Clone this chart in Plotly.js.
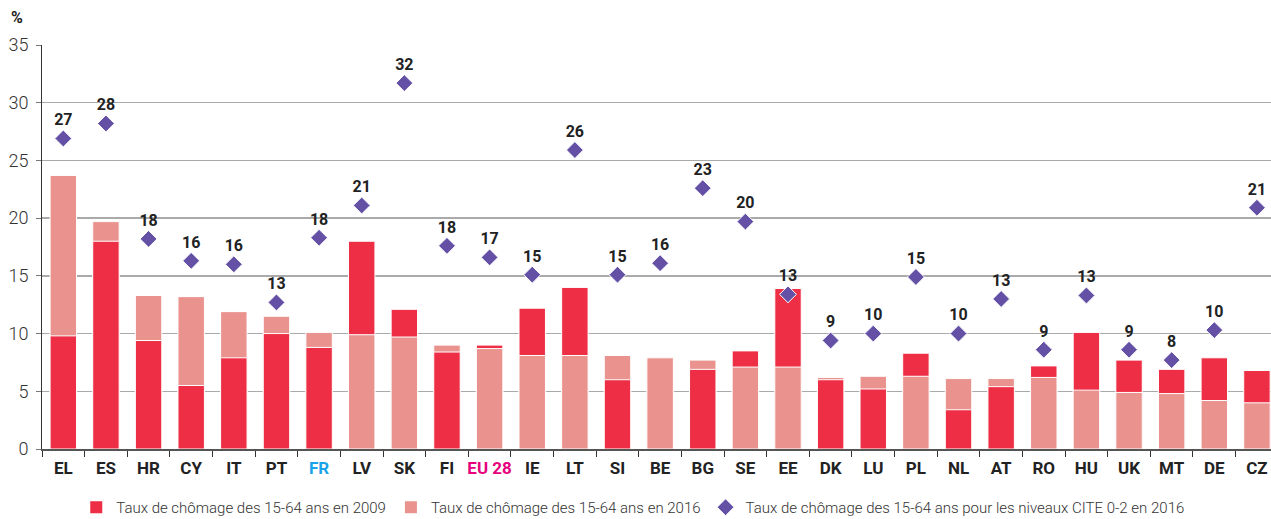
<!DOCTYPE html>
<html>
<head>
<meta charset="utf-8">
<script src="https://cdn.plot.ly/plotly-3.0.1.min.js"></script>
<style>
html,body{margin:0;padding:0;background:#fff;}
#chart{width:1271px;height:519px;}
</style>
</head>
<body>
<div id="chart"></div>
<script>
// Data
const countries = ["EL","ES","HR","CY","IT","PT","FR","LV","SK","FI","EU 28","IE","LT","SI","BE","BG","SE","EE","DK","LU","PL","NL","AT","RO","HU","UK","MT","DE","CZ"];
const rate2009 = [9.8,18.0,9.4,5.5,7.9,10.0,8.8,18.0,12.1,8.4,9.0,12.2,14.0,6.0,7.9,6.9,8.5,13.9,6.0,5.2,8.3,3.4,5.4,7.2,10.1,7.7,6.9,7.9,6.8];
const rate2016 = [23.7,19.7,13.3,13.2,11.9,11.5,10.1,9.9,9.7,9.0,8.7,8.1,8.1,8.1,7.9,7.7,7.1,7.1,6.2,6.3,6.3,6.1,6.1,6.2,5.1,4.9,4.8,4.2,4.0];
const cite2016 = [26.9,28.2,18.2,16.3,16.0,12.7,18.3,21.1,31.7,17.6,16.6,15.1,25.9,15.1,16.1,22.6,19.7,13.4,9.4,10.0,14.9,10.0,13.0,8.6,13.3,8.6,7.7,10.3,20.9];
const labelColors = {"FR":"#1AA3E8","EU 28":"#E6007E"};

const RED = "#EE2E44";
const PINK = "#EA928E";
const PURPLE = "#6450A5";
const FONT = "Roboto, 'Liberation Sans', sans-serif";

// Overlapping bars: the larger value sits behind, the smaller in front
const backY = countries.map((c,i)=>Math.max(rate2009[i],rate2016[i]));
const backC = countries.map((c,i)=>rate2009[i] > rate2016[i] ? RED : PINK);
const frontY = countries.map((c,i)=>Math.min(rate2009[i],rate2016[i]));
const frontC = countries.map((c,i)=>rate2009[i] < rate2016[i] ? RED : PINK);

const ticktext = countries.map(c => labelColors[c] ? `<span style="color:${labelColors[c]}">${c}</span>` : c);

const traces = [
  {type:"bar", x:countries, y:backY, marker:{color:backC, line:{color:"#ffffff", width:1}}, width:0.62, showlegend:false, hoverinfo:"x+y"},
  {type:"bar", x:countries, y:frontY, marker:{color:frontC, line:{color:"#ffffff", width:1}}, width:0.62, showlegend:false, hoverinfo:"x+y"},
  {type:"bar", x:[null], y:[null], name:"Taux de chômage des 15-64 ans en 2009", marker:{color:RED}},
  {type:"bar", x:[null], y:[null], name:"Taux de chômage des 15-64 ans en 2016", marker:{color:PINK}},
  {type:"scatter", mode:"markers+text", x:countries, y:cite2016, name:"Taux de chômage des 15-64 ans pour les niveaux CITE 0-2 en 2016",
   marker:{symbol:"diamond", size:13, color:PURPLE, line:{color:"#ffffff", width:1}},
   texttemplate:"%{y:.0f}", textposition:"top center",
   textfont:{family:FONT, size:16, color:"#222222", weight:"bold"}}
];

const layout = {
  width:1271, height:519,
  margin:{l:42, r:0, t:45, b:70, autoexpand:false},
  paper_bgcolor:"#ffffff", plot_bgcolor:"#ffffff",
  barmode:"overlay",
  font:{family:FONT, color:"#333333"},
  xaxis:{
    type:"category", range:[-0.5, 28.33],
    tickvals:countries, ticktext:ticktext, tickangle:0,
    tickson:"boundaries", ticks:"outside", ticklen:6, tickcolor:"#333333", tickwidth:1,
    ticklabelstandoff:3,
    showline:true, linecolor:"#555555", linewidth:1.5,
    showgrid:false, zeroline:false,
    tickfont:{family:FONT, size:17, color:"#222222", weight:"bold"}
  },
  yaxis:{
    range:[0,35], dtick:5, tick0:0,
    ticks:"outside", ticklen:5, tickcolor:"#777777",
    ticklabelstandoff:4,
    showline:true, linecolor:"#333333", linewidth:1,
    gridcolor:"#aaaaaa", gridwidth:1.5, zeroline:false,
    tickfont:{family:FONT, size:18, color:"#333333", weight:300}
  },
  legend:{orientation:"h", xref:"container", yref:"container", x:0.06, xanchor:"left", y:0.054, yanchor:"top",
    font:{family:FONT, size:15, color:"#333333", weight:300}, traceorder:"normal", itemwidth:30},
  annotations:[
    {text:"<b>%</b>", xref:"paper", yref:"paper", x:-0.02, y:1.0, xanchor:"center", yanchor:"bottom", yshift:16,
     showarrow:false, font:{family:FONT, size:16, color:"#222222"}}
  ],
  showlegend:true
};

Plotly.newPlot("chart", traces, layout, {displayModeBar:false, staticPlot:true});
</script>
</body>
</html>
